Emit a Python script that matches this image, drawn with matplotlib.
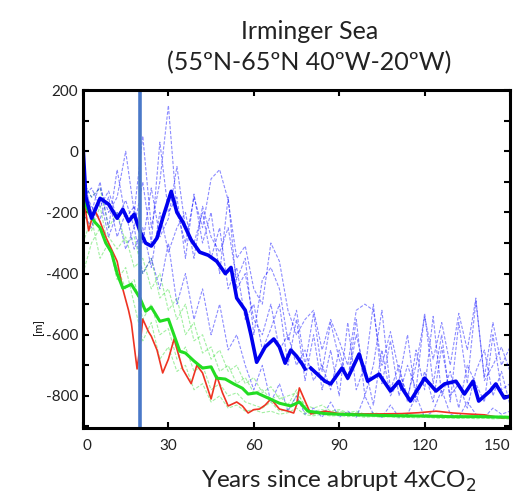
import numpy as np
import matplotlib
matplotlib.use("Agg")
import matplotlib.pyplot as plt
from matplotlib.ticker import MultipleLocator


plt.rcParams["font.family"] = ["Lato", "DejaVu Sans"]
plt.rcParams["axes.unicode_minus"] = False

# thin ensemble members sampled every 3 years
member_years = list(range(0, 151, 3))

blue_members = [
    [-100, -150, -120, -200, -150, 0, -200, 50, -250, -100, 150, -200, -300,
     -150, -250, -90, -60, -160, -350, -310, -450, -500, -300, -360, -520,
     -600, -550, -520, -650, -550, -620, -700, -520, -500, -520, -700, -590,
     -720, -800, -700, -540, -680, -560, -700, -530, -650, -480, -750, -700,
     -640, -720],
    [-150, -120, -180, -130, -220, -160, -250, -100, -300, 30, -200, -150,
     -350, -140, -300, -200, -400, -150, -450, -400, -550, -600, -500, -650,
     -600, -700, -650, -750, -700, -780, -650, -750, -550, -800, -700, -520,
     -780, -700, -820, -650, -780, -540, -800, -720, -840, -700, -760, -820,
     -600, -780, -760],
    [-200, -250, -150, -280, -200, -320, -250, -400, -350, -450, -300, -500,
     -400, -550, -450, -600, -500, -650, -600, -700, -780, -700, -820, -760,
     -850, -800, -860, -840, -870, -820, -870, -850, -870, -800, -860, -870,
     -830, -870, -860, -800, -870, -850, -780, -860, -870, -820, -860, -870,
     -840, -860, -850],
    [-80, -200, -100, -250, -60, -220, -180, -300, -120, -280, -220, -50,
     -250, -300, -200, -350, -250, -450, -380, -550, -500, -650, -580, -500,
     -700, -550, -750, -600, -780, -650, -800, -560, -780, -700, -830, -650,
     -800, -750, -600, -820, -720, -820, -640, -800, -760, -840, -720, -650,
     -800, -720, -830],
    [-120, -180, -220, -150, -280, -200, -320, -250, -380, -200, -330, -250,
     -200, -350, -180, -280, -330, -250, -420, -350, -600, -420, -380, -450,
     -620, -520, -700, -530, -720, -560, -680, -750, -600, -720, -500, -760,
     -620, -800, -700, -780, -530, -760, -600, -820, -560, -760, -490, -740,
     -560, -700, -640],
]

green_members = [
    [-100, -150, -120, -250, -200, -300, -280, -400, -350, -480, -450, -550,
     -500, -620, -600, -680, -650, -720, -700, -760, -740, -790, -770, -810,
     -800, -790, -830, -840, -830, -850, -845, -855, -850, -860, -855, -860,
     -858, -862, -860, -865, -860, -865, -862, -866, -862, -868, -864, -866,
     -868, -865, -868],
    [-200, -260, -180, -320, -380, -450, -420, -550, -500, -600, -580, -680,
     -640, -720, -700, -780, -760, -800, -790, -820, -830, -840, -820, -850,
     -845, -800, -855, -860, -855, -862, -858, -865, -860, -866, -862, -868,
     -864, -866, -870, -866, -868, -870, -866, -870, -868, -872, -868, -870,
     -872, -870, -872],
    [-300, -220, -350, -300, -420, -380, -500, -620, -560, -680, -640, -720,
     -700, -780, -760, -820, -800, -840, -830, -850, -845, -855, -850, -860,
     -855, -840, -862, -865, -860, -866, -864, -868, -866, -870, -868, -870,
     -868, -872, -870, -872, -870, -872, -874, -872, -874, -872, -875, -873,
     -875, -874, -876],
    [-400, -300, -250, -280, -320, -280, -380, -350, -450, -400, -520, -480,
     -600, -560, -660, -640, -720, -700, -760, -740, -790, -780, -810, -800,
     -830, -780, -840, -850, -845, -855, -850, -858, -855, -860, -858, -862,
     -860, -864, -862, -866, -864, -866, -864, -868, -866, -868, -866, -870,
     -868, -870, -868],
]

# ensemble means
blue_mean_years = [0, 1, 3, 6, 9, 12, 14, 16, 18, 20, 22, 24, 26, 28, 31,
                   33, 35, 38, 41, 44, 47, 50, 52, 54, 57, 59, 61, 64, 67,
                   69, 71, 73, 75, 77, 78, 79, 80, 85, 87, 91, 93, 97, 100,
                   104, 108, 111, 112, 115, 120, 124, 127, 131, 134, 137,
                   139, 143, 145, 148, 150]
blue_mean = [20, -150, -219, -154, -173, -219, -190, -229, -206, -261, -300,
             -310, -284, -219, -131, -200, -230, -290, -330, -340, -360,
             -400, -380, -480, -520, -600, -690, -640, -614, -640, -693,
             -650, -670, -696, -712, np.nan, -709, -752, -761, -709, -742,
             -663, -752, -729, -784, -752, -774, -817, -742, -784, -761,
             -752, -794, -752, -817, -784, -761, -807, -800]

green_mean_years = [0, 2, 4, 6, 8, 10, 12, 14, 17, 20, 22, 24, 27, 30, 34,
                    36, 39, 42, 45, 47, 50, 53, 56, 58, 61, 65, 69, 73, 76,
                    79, 85, 90, 100, 110, 120, 130, 140, 150]
green_mean = [-150, -200, -230, -250, -300, -330, -400, -448, -435, -480,
              -523, -510, -556, -549, -654, -660, -686, -709, -705, -742,
              -745, -761, -775, -794, -790, -807, -824, -833, -820, -850,
              -858, -860, -863, -865, -866, -868, -868, -870]

red_years = [0, 1, 2, 4, 6, 8, 10, 12, 14, 16, 17, 19, 20, 21, 23, 24, 26,
             28, 30, 32, 35, 38, 40, 42, 45, 47, 49, 51, 54, 56, 58, 60, 62,
             64, 66, 69, 72, 74, 75, 76, 78, 80, 85, 90, 97, 104, 112, 118,
             124, 130, 135, 141, 147, 150]
red_values = [-150, -200, -260, -190, -230, -280, -320, -360, -451, -520,
              -562, -712, -640, -549, -590, -605, -650, -725, -680, -614,
              -712, -760, -700, -725, -810, -735, -790, -833, -820, -833,
              -856, -845, -843, -830, -810, -843, -850, -856, -830, -774,
              -817, -859, -850, -858, -859, -859, -858, -855, -850, -856,
              -859, -862, -872, -870]

marker_year = 20


def main():
    fig = plt.figure(figsize=(5.17, 4.98), dpi=100)
    ax = fig.add_axes([0.1605, 0.1406, 0.8260, 0.6784])

    for values in green_members:
        ax.plot(member_years, values, color="#33dd33", linewidth=0.8,
                alpha=0.45, linestyle=(0, (3, 1.5)))
    for values in blue_members:
        ax.plot(member_years, values, color="#0000ff", linewidth=0.8,
                alpha=0.45, linestyle=(0, (3, 1.5)))

    ax.plot(red_years, red_values, color="#ee3322", linewidth=1.2)
    ax.plot(green_mean_years, green_mean, color="#22dd22", linewidth=2.2)
    ax.plot(blue_mean_years, blue_mean, color="#0000ee", linewidth=2.6)

    ax.axvline(marker_year, color="#4a78c8", linewidth=2.6)

    ax.set_xlim(0, 150)
    ax.set_ylim(-905, 200)
    ax.set_xticks([0, 30, 60, 90, 120, 150])
    ax.set_yticks([200, 0, -200, -400, -600, -800])
    ax.yaxis.set_minor_locator(MultipleLocator(100))
    ax.tick_params(which="both", direction="in", top=True, right=True,
                   width=1.5, labelsize=11, labelcolor="#222222")
    ax.tick_params(which="major", length=4)
    ax.tick_params(which="minor", length=4)
    ax.tick_params(axis="x", pad=8)
    for spine in ax.spines.values():
        spine.set_linewidth(2.2)

    x_labels = ax.get_xticklabels()
    x_labels[0].set_horizontalalignment("left")
    x_labels[-1].set_horizontalalignment("right")

    ax.set_title("Irminger Sea\n(55ºN-65ºN 40ºW-20ºW)", fontsize=18,
                 pad=14, color="#222222", x=0.53, linespacing=1.45)
    ax.set_ylabel("[m]", fontsize=8)
    ax.yaxis.set_label_coords(-0.09, 0.3)
    ax.set_xlabel("Years since abrupt 4xCO$_2$", fontsize=17.5,
                  color="#222222")
    ax.xaxis.set_label_coords(0.6, -0.12)

    fig.savefig("out.png", dpi=100)
    plt.close(fig)


if __name__ == "__main__":
    main()
